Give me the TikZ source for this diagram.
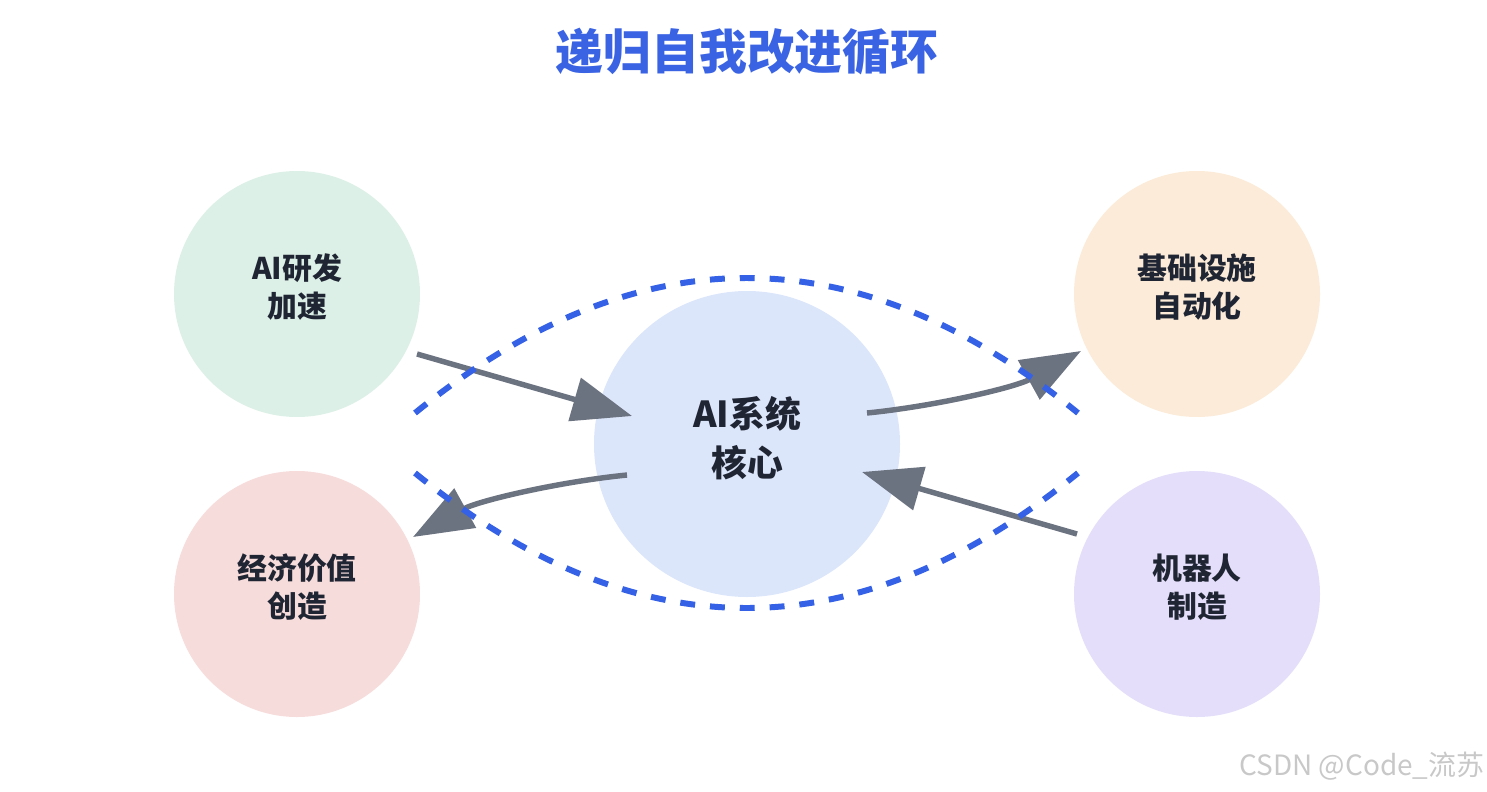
\documentclass[tikz,border=0pt]{standalone}
\usepackage{fontspec}
\usetikzlibrary{arrows.meta,positioning}
\newfontfamily\cjk{Noto Sans CJK SC}
\definecolor{titleCol}{RGB}{58,99,228}
\definecolor{loopCol}{RGB}{52,97,230}
\definecolor{arrCol}{RGB}{107,114,128}
\definecolor{txtCol}{RGB}{31,37,51}
\definecolor{coreCol}{RGB}{220,230,251}
\definecolor{rdCol}{RGB}{221,240,231}
\definecolor{infCol}{RGB}{251,235,216}
\definecolor{ecoCol}{RGB}{247,220,220}
\definecolor{botCol}{RGB}{228,222,250}
\definecolor{markCol}{RGB}{200,200,200}
\tikzset{
  bubble/.style={circle,draw=none,inner sep=0pt,minimum size=4.92cm,align=center,
                 text=txtCol,font=\cjk\bfseries\fontsize{17}{21.5}\selectfont},
  core/.style={bubble,minimum size=6.12cm,
               font=\cjk\bfseries\fontsize{20.4}{27.8}\selectfont},
  flow/.style={-{Triangle[length=34pt,width=25pt]},line width=3.1pt,draw=arrCol},
  loop/.style={draw=loopCol,line width=3.4pt,dash pattern=on 8.5pt off 8.5pt},
}

\begin{document}
\begin{tikzpicture}[x=0.02cm,y=-0.02cm]
      \useasboundingbox (0,0) rectangle (1487,791);
      \node[font=\cjk\bfseries\fontsize{27.2}{32}\selectfont,text=titleCol] (title) at (747,52) {递归自我改进循环};
      \fill[coreCol] (747,444) circle[radius=153];
      \node[core] (sys) at (747,438.5) {AI系统\\核心};
      \fill[rdCol] (297,294) circle[radius=123];
      \fill[infCol] (1197,294) circle[radius=123];
      \fill[ecoCol] (297,594) circle[radius=123];
      \fill[botCol] (1197,594) circle[radius=123];
      \node[bubble] (rd) at (297,287) {AI研发\\加速};
      \node[bubble] (inf) at (1197,287) {基础设施\\自动化};
      \node[bubble] (eco) at (297,587) {经济价值\\创造};
      \node[bubble] (bot) at (1197,587) {机器人\\制造};
      % arrow ends
      \coordinate (rdOut) at (417,354);
      \coordinate (sysInA) at (632,416);
      \coordinate (sysOutA) at (867,413);
      \coordinate (infIn) at (1081,351);
      \coordinate (botOut) at (1077,534);
      \coordinate (sysInB) at (862,472);
      \coordinate (sysOutB) at (627,475);
      \coordinate (ecoIn) at (413,537);
      \draw[flow] (rdOut) -- (sysInA);
      \draw[flow] (sysOutA) .. controls (937,406) and (1016,387) .. (infIn);
      \draw[flow] (botOut) -- (sysInB);
      \draw[flow] (sysOutB) .. controls (557,482) and (478,501) .. (ecoIn);
      % loop on top of the arrows
      \coordinate (loopW1) at (415,413);
      \coordinate (loopE1) at (1078,413);
      \coordinate (loopW2) at (415,473);
      \coordinate (loopE2) at (1078,473);
      \draw[loop] (loopW1) .. controls (636,233) and (857,233) .. (loopE1);
      \draw[loop] (loopW2) .. controls (636,653) and (857,653) .. (loopE2);
      \node[font=\cjk\fontsize{15.9}{18}\selectfont,text=markCol] (mark) at (1362,766) {CSDN @Code\_流苏};
\end{tikzpicture}
\end{document}
